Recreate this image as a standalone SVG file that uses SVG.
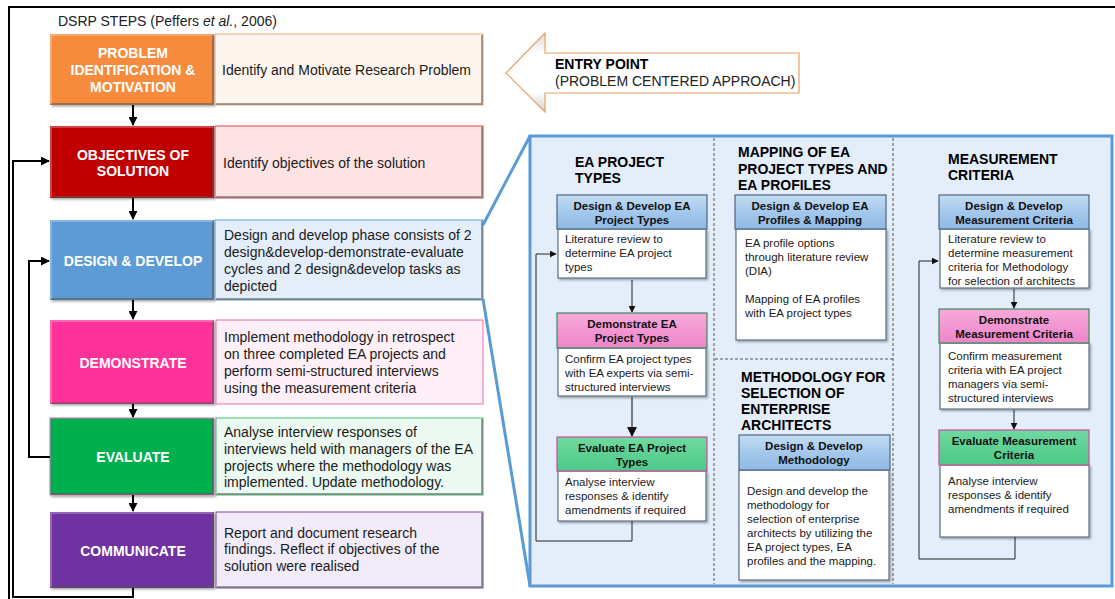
<svg xmlns="http://www.w3.org/2000/svg" width="1115" height="599" viewBox="0 0 1115 599">
  <defs>
    <style>
      text { font-family: "Liberation Sans", Arial, sans-serif; }
      .lbl { font-size: 14px; font-weight: bold; fill: #ffffff; text-anchor: middle; }
      .desc { font-size: 14px; fill: #1a1a1a; }
      .ttl { font-size: 14px; font-weight: bold; fill: #000000; }
      .hd { font-size: 11.5px; font-weight: bold; fill: #111111; text-anchor: middle; }
      .bd { font-size: 11.5px; fill: #1a1a1a; }
      .flow { fill: none; stroke: #000000; stroke-width: 2; }
      .thin { fill: none; stroke: #222222; stroke-width: 1; }
      .dash { fill: none; stroke: #555555; stroke-width: 1; stroke-dasharray: 3 2; }
      .bevel { fill: none; stroke: #555555; stroke-width: 2; opacity: 0.55; }
      .hiL { fill: none; stroke: #ffffff; stroke-width: 1.5; opacity: 0.35; }
      .body { fill: #ffffff; stroke: #5d6f80; stroke-width: 1.2; }
      .hdbox { stroke: #4a6684; stroke-width: 1.2; }
    </style>
    <marker id="ah" viewBox="0 0 10 10" refX="9" refY="5" markerWidth="4.5" markerHeight="4.5" orient="auto">
      <path d="M0,0 L10,5 L0,10 z" fill="#000000"/>
    </marker>
    <marker id="ahs" viewBox="0 0 10 10" refX="9" refY="5" markerWidth="7" markerHeight="7" orient="auto">
      <path d="M0,0 L10,5 L0,10 z" fill="#111111"/>
    </marker>
    <linearGradient id="gBlue" x1="0" y1="0" x2="0" y2="1">
      <stop offset="0" stop-color="#c3dcf3"/>
      <stop offset="0.5" stop-color="#a4c8ec"/>
      <stop offset="1" stop-color="#8fb9e3"/>
    </linearGradient>
    <linearGradient id="gPink" x1="0" y1="0" x2="0" y2="1">
      <stop offset="0" stop-color="#f7a9db"/>
      <stop offset="1" stop-color="#ee85c8"/>
    </linearGradient>
    <linearGradient id="gGreen" x1="0" y1="0" x2="0" y2="1">
      <stop offset="0" stop-color="#6fd9a0"/>
      <stop offset="1" stop-color="#4cc988"/>
    </linearGradient>
    <linearGradient id="gArrow" x1="0" y1="0" x2="0" y2="1">
      <stop offset="0" stop-color="#d8d8d8"/>
      <stop offset="0.25" stop-color="#ffffff"/>
      <stop offset="0.75" stop-color="#ffffff"/>
      <stop offset="1" stop-color="#cfcfcf"/>
    </linearGradient>
    <filter id="sh" x="-5%" y="-5%" width="115%" height="120%">
      <feDropShadow dx="1.5" dy="1.5" stdDeviation="1" flood-color="#000" flood-opacity="0.35"/>
    </filter>
  </defs>

  <rect width="1115" height="599" fill="#ffffff"/>

  <!-- outer frame -->
  <path d="M9,599 L9,7 L1115,7" fill="none" stroke="#000" stroke-width="2"/>
  <text x="58" y="26" style="font-size:14px;fill:#222">DSRP STEPS (Peffers <tspan font-style="italic">et al.</tspan>, 2006)</text>

  <!-- DSRP step: problem identification -->
  <g id="step-problem">
    <rect x="50" y="34" width="164" height="71" fill="#f68b3c" filter="url(#sh)"/>
    <polyline class="bevel" points="213,35 213,104 51,104"/>
    <polyline class="hiL" points="51,104 51,35 213,35"/>
    <text class="lbl" x="133" y="58">PROBLEM</text>
    <text class="lbl" x="133" y="75">IDENTIFICATION &amp;</text>
    <text class="lbl" x="133" y="92">MOTIVATION</text>
    <rect x="215" y="34" width="268" height="71" fill="#fef6ee" stroke="#f2a66a" stroke-width="1"/>
    <polyline class="bevel" points="482,35 482,104 216,104"/>
    <text class="desc" x="222" y="75">Identify  and Motivate Research Problem</text>
  </g>

  <!-- DSRP step: objectives -->
  <g id="step-objectives">
    <rect x="50" y="126" width="164" height="72" fill="#c00000" filter="url(#sh)"/>
    <polyline class="bevel" points="213,127 213,197 51,197"/>
    <polyline class="hiL" points="51,197 51,127 213,127"/>
    <text class="lbl" x="133" y="160">OBJECTIVES OF</text>
    <text class="lbl" x="133" y="176">SOLUTION</text>
    <rect x="215" y="126" width="268" height="72" fill="#fde3e3" stroke="#d44a4a" stroke-width="1"/>
    <polyline class="bevel" points="482,127 482,197 216,197"/>
    <text class="desc" x="223" y="168">Identify  objectives of the solution</text>
  </g>

  <!-- DSRP step: design & develop -->
  <g id="step-design">
    <rect x="50" y="220" width="164" height="80" fill="#5b9bd5" filter="url(#sh)"/>
    <polyline class="bevel" points="213,221 213,299 51,299"/>
    <polyline class="hiL" points="51,299 51,221 213,221"/>
    <text class="lbl" x="133" y="266">DESIGN &amp; DEVELOP</text>
    <rect x="215" y="220" width="268" height="80" fill="#e4eefb" stroke="#5b9bd5" stroke-width="1"/>
    <polyline class="bevel" points="482,221 482,299 216,299"/>
    <text class="desc" x="224" y="240">Design and develop phase consists of 2</text>
    <text class="desc" x="224" y="257">design&amp;develop-demonstrate-evaluate</text>
    <text class="desc" x="224" y="274">cycles and 2 design&amp;develop tasks as</text>
    <text class="desc" x="224" y="291">depicted</text>
  </g>

  <!-- DSRP step: demonstrate -->
  <g id="step-demonstrate">
    <rect x="50" y="320" width="164" height="84" fill="#ff3399" filter="url(#sh)"/>
    <polyline class="bevel" points="213,321 213,403 51,403"/>
    <polyline class="hiL" points="51,403 51,321 213,321"/>
    <text class="lbl" x="133" y="368">DEMONSTRATE</text>
    <rect x="216" y="320" width="267" height="84" fill="#fff0f7" stroke="#f06bb0" stroke-width="1"/>
    <text class="desc" x="224" y="342">Implement  methodology  in retrospect</text>
    <text class="desc" x="224" y="359">on three completed EA projects and</text>
    <text class="desc" x="224" y="376">perform semi-structured  interviews</text>
    <text class="desc" x="224" y="393">using the measurement  criteria</text>
  </g>

  <!-- DSRP step: evaluate -->
  <g id="step-evaluate">
    <rect x="50" y="418" width="164" height="77" fill="#00b050" stroke="#e070c0" stroke-width="1" filter="url(#sh)"/>
    <polyline class="bevel" points="213,419 213,494 51,494"/>
    <text class="lbl" x="133" y="462">EVALUATE</text>
    <rect x="216" y="418" width="267" height="77" fill="#ecfaf1" stroke="#3cbf72" stroke-width="1"/>
    <polyline class="bevel" points="482,419 482,494 217,494"/>
    <text class="desc" x="224" y="437">Analyse interview responses of</text>
    <text class="desc" x="224" y="454">interviews held with managers of the EA</text>
    <text class="desc" x="224" y="471">projects where the methodology was</text>
    <text class="desc" x="224" y="487">implemented. Update methodology.</text>
  </g>

  <!-- DSRP step: communicate -->
  <g id="step-communicate">
    <rect x="50" y="512" width="164" height="76" fill="#7030a0" filter="url(#sh)"/>
    <polyline class="bevel" points="213,513 213,587 51,587"/>
    <polyline class="hiL" points="51,587 51,513 213,513"/>
    <text class="lbl" x="133" y="556">COMMUNICATE</text>
    <rect x="216" y="512" width="267" height="76" fill="#f2ebf9" stroke="#7d46ad" stroke-width="1"/>
    <polyline class="bevel" points="482,513 482,587 217,587"/>
    <text class="desc" x="224" y="538">Report  and document research</text>
    <text class="desc" x="224" y="554">findings. Reflect if objectives of the</text>
    <text class="desc" x="224" y="571">solution were realised</text>
  </g>

  <!-- entry point block arrow -->
  <g id="entry-point">
    <path d="M506,73 L545,33 L545,53 L799,53 L799,93 L545,93 L545,112 Z" fill="url(#gArrow)" stroke="#e9a063" stroke-width="1.2"/>
    <text x="555" y="69" style="font-size:14px;font-weight:bold;fill:#000">ENTRY POINT</text>
    <text x="555" y="86" style="font-size:14px;fill:#222">(PROBLEM CENTERED APPROACH)</text>
  </g>

  <!-- design & develop detail panel -->
  <g id="design-panel">
    <polyline points="483,225 530,136" fill="none" stroke="#5b9bd5" stroke-width="3"/>
    <polyline points="483,299 530,586" fill="none" stroke="#5b9bd5" stroke-width="3"/>
    <rect x="530" y="136" width="582" height="450" fill="#e4eefb" stroke="#5b9bd5" stroke-width="3"/>
    <line class="dash" x1="714" y1="138" x2="714" y2="584"/>
    <line class="dash" x1="893" y1="138" x2="893" y2="584"/>
    <line class="dash" x1="715" y1="359" x2="893" y2="359"/>
  </g>

  <!-- column: EA project types -->
  <g id="col-project-types">
    <text class="ttl" x="575" y="167">EA PROJECT</text>
    <text class="ttl" x="575" y="183">TYPES</text>
  </g>
  <g id="pt-design">
    <rect x="558" y="229" width="148" height="49" class="body" filter="url(#sh)"/>
    <rect x="557" y="195" width="150" height="34" fill="url(#gBlue)" class="hdbox"/>
    <text class="hd" x="632" y="210">Design &amp; Develop EA</text>
    <text class="hd" x="632" y="224">Project Types</text>
    <text class="bd" x="565" y="243">Literature  review  to</text>
    <text class="bd" x="565" y="257">determine  EA project</text>
    <text class="bd" x="565" y="271">types</text>
  </g>
  <g id="pt-demonstrate">
    <rect x="558" y="348" width="148" height="48" class="body" filter="url(#sh)"/>
    <rect x="557" y="313" width="150" height="35" fill="url(#gPink)" stroke="#3a8a5a" stroke-width="1.2"/>
    <text class="hd" x="632" y="328">Demonstrate EA</text>
    <text class="hd" x="632" y="342">Project Types</text>
    <text class="bd" x="565" y="363">Confirm  EA project types</text>
    <text class="bd" x="565" y="377">with EA experts via semi-</text>
    <text class="bd" x="565" y="391">structured  interviews</text>
  </g>
  <g id="pt-evaluate">
    <rect x="558" y="471" width="148" height="50" class="body" filter="url(#sh)"/>
    <rect x="557" y="437" width="150" height="34" fill="url(#gGreen)" stroke="#d04a9a" stroke-width="1.2"/>
    <text class="hd" x="632" y="452">Evaluate EA Project</text>
    <text class="hd" x="632" y="466">Types</text>
    <text class="bd" x="565" y="486">Analyse interview</text>
    <text class="bd" x="565" y="500">responses &amp; identify</text>
    <text class="bd" x="565" y="514">amendments  if required</text>
  </g>

  <!-- column: mapping of EA project types and profiles -->
  <g id="col-mapping">
    <text class="ttl" x="738" y="157">MAPPING OF EA</text>
    <text class="ttl" x="738" y="174">PROJECT TYPES AND</text>
    <text class="ttl" x="738" y="190">EA PROFILES</text>
  </g>
  <g id="map-design">
    <rect x="736" y="229" width="150" height="111" class="body" filter="url(#sh)"/>
    <rect x="735" y="195" width="151" height="34" fill="url(#gBlue)" class="hdbox"/>
    <text class="hd" x="810" y="210">Design &amp; Develop EA</text>
    <text class="hd" x="810" y="224">Profiles &amp; Mapping</text>
    <text class="bd" x="745" y="247">EA profile  options</text>
    <text class="bd" x="745" y="261">through literature  review</text>
    <text class="bd" x="745" y="275">(DIA)</text>
    <text class="bd" x="745" y="303">Mapping of EA profiles</text>
    <text class="bd" x="745" y="317">with EA project types</text>
  </g>

  <!-- column: methodology for selection of enterprise architects -->
  <g id="col-methodology">
    <text class="ttl" x="741" y="382">METHODOLOGY FOR</text>
    <text class="ttl" x="741" y="398">SELECTION OF</text>
    <text class="ttl" x="741" y="414">ENTERPRISE</text>
    <text class="ttl" x="741" y="430">ARCHITECTS</text>
  </g>
  <g id="meth-design">
    <rect x="739" y="470" width="150" height="110" class="body" filter="url(#sh)"/>
    <rect x="739" y="435" width="151" height="35" fill="url(#gBlue)" class="hdbox"/>
    <text class="hd" x="814" y="450">Design &amp; Develop</text>
    <text class="hd" x="814" y="464">Methodology</text>
    <text class="bd" x="747" y="495">Design and develop  the</text>
    <text class="bd" x="747" y="509">methodology for</text>
    <text class="bd" x="747" y="523">selection of enterprise</text>
    <text class="bd" x="747" y="537">architects by utilizing the</text>
    <text class="bd" x="747" y="551">EA project types, EA</text>
    <text class="bd" x="747" y="565">profiles  and the mapping.</text>
  </g>

  <!-- column: measurement criteria -->
  <g id="col-measurement">
    <text class="ttl" x="948" y="164">MEASUREMENT</text>
    <text class="ttl" x="948" y="180">CRITERIA</text>
  </g>
  <g id="mc-design">
    <rect x="940" y="229" width="149" height="59" class="body" filter="url(#sh)"/>
    <rect x="939" y="195" width="150" height="34" fill="url(#gBlue)" class="hdbox"/>
    <text class="hd" x="1014" y="210">Design &amp; Develop</text>
    <text class="hd" x="1014" y="224">Measurement Criteria</text>
    <text class="bd" x="948" y="243">Literature  review  to</text>
    <text class="bd" x="948" y="257">determine  measurement</text>
    <text class="bd" x="948" y="271">criteria for Methodology</text>
    <text class="bd" x="948" y="285">for selection of architects</text>
  </g>
  <g id="mc-demonstrate">
    <rect x="940" y="343" width="149" height="66" class="body" filter="url(#sh)"/>
    <rect x="939" y="309" width="150" height="34" fill="url(#gPink)" stroke="#3a8a5a" stroke-width="1.2"/>
    <text class="hd" x="1014" y="324">Demonstrate</text>
    <text class="hd" x="1014" y="338">Measurement Criteria</text>
    <text class="bd" x="948" y="360">Confirm  measurement</text>
    <text class="bd" x="948" y="374">criteria with EA project</text>
    <text class="bd" x="948" y="388">managers via semi-</text>
    <text class="bd" x="948" y="402">structured  interviews</text>
  </g>
  <g id="mc-evaluate">
    <rect x="940" y="465" width="149" height="72" class="body" filter="url(#sh)"/>
    <rect x="939" y="430" width="150" height="35" fill="url(#gGreen)" stroke="#d04a9a" stroke-width="1.2"/>
    <text class="hd" x="1014" y="445">Evaluate Measurement</text>
    <text class="hd" x="1014" y="459">Criteria</text>
    <text class="bd" x="948" y="485">Analyse interview</text>
    <text class="bd" x="948" y="499">responses &amp; identify</text>
    <text class="bd" x="948" y="513">amendments  if required</text>
  </g>

  <!-- connectors -->
  <g id="connectors">
    <line class="flow" x1="133" y1="105" x2="133" y2="125" marker-end="url(#ah)"/>
    <line class="flow" x1="133" y1="198" x2="133" y2="219" marker-end="url(#ah)"/>
    <line class="flow" x1="133" y1="300" x2="133" y2="319" marker-end="url(#ah)"/>
    <line class="flow" x1="133" y1="404" x2="133" y2="417" marker-end="url(#ah)"/>
    <line class="flow" x1="133" y1="495" x2="133" y2="511" marker-end="url(#ah)"/>
    <polyline class="flow" points="133,588 133,597 13,597 13,161 49,161" marker-end="url(#ah)"/>
    <polyline class="flow" points="50,457 29,457 29,261 49,261" marker-end="url(#ah)"/>

    <line class="thin" x1="632" y1="280" x2="632" y2="312" marker-end="url(#ahs)"/>
    <line class="thin" x1="632" y1="397" x2="632" y2="436" marker-end="url(#ahs)" style="stroke:#555;stroke-width:1.5"/>
    <polyline class="thin" points="632,521 632,541 536,541 536,254 556,254" marker-end="url(#ahs)"/>

    <line class="thin" x1="1014" y1="289" x2="1014" y2="308" marker-end="url(#ahs)"/>
    <line class="thin" x1="1014" y1="410" x2="1014" y2="429" marker-end="url(#ahs)"/>
    <polyline class="thin" points="1015,537 1015,559 919,559 919,261 938,261" marker-end="url(#ahs)"/>
  </g>
</svg>
